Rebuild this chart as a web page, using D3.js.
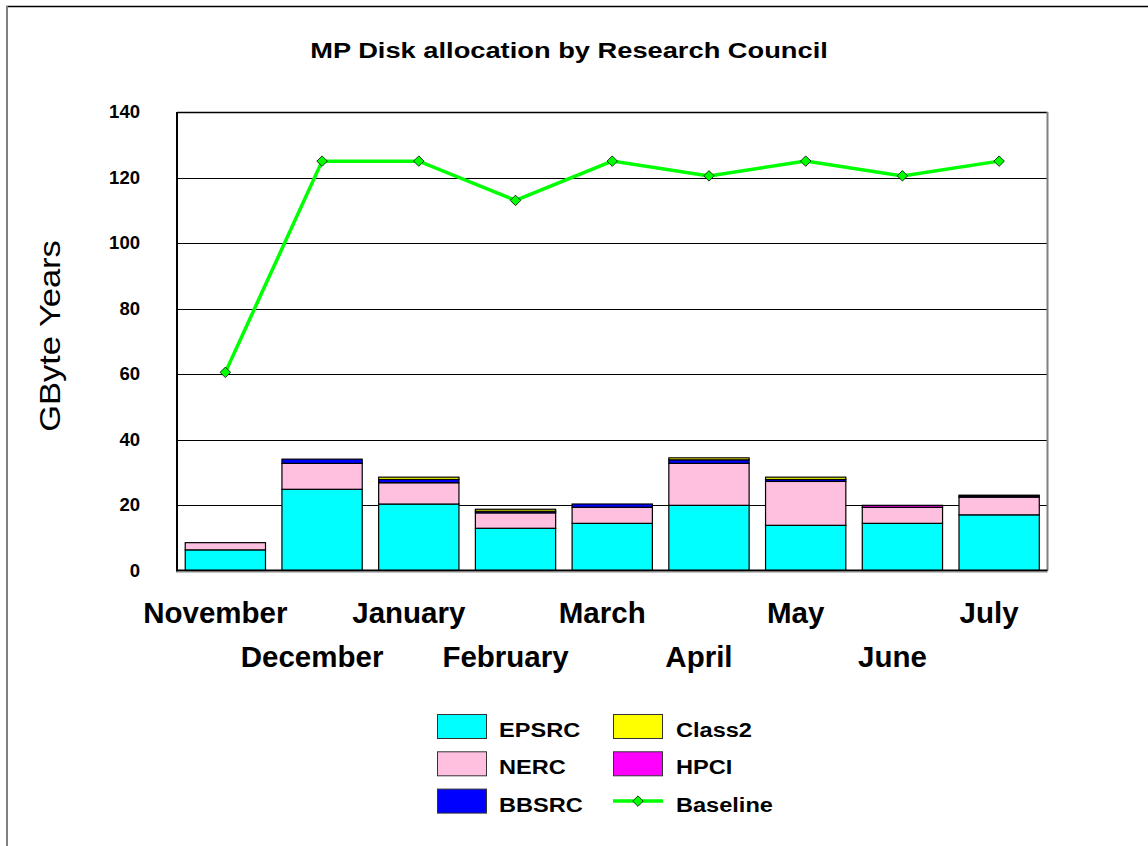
<!DOCTYPE html>
<html>
<head>
<meta charset="utf-8">
<script src="https://cdn.jsdelivr.net/npm/d3@7"></script>
<style>
  html, body { margin: 0; padding: 0; background: #fff; }
  svg { display: block; font-family: Arial, "Liberation Sans", sans-serif; }
</style>
</head>
<body>
<svg id="chart" width="1148" height="846"></svg>
<script>
const months = ["November","December","January","February","March","April","May","June","July"];
const EPSRC  = [6.3, 24.8, 20.3, 12.9, 14.4, 19.9, 13.8, 14.4, 17.0];
const NERC   = [2.2, 7.9, 6.5, 4.7, 4.9, 12.8, 13.4, 4.9, 5.4];
const BBSRC  = [0, 1.3, 1.0, 0.5, 1.0, 1.1, 0.6, 0, 0.3];
const Class2 = [0, 0, 0.7, 0.6, 0, 0.6, 0.7, 0, 0];
const HPCI   = [0, 0, 0, 0, 0, 0, 0, 0.6, 0.3];
const Baseline = [60.5, 125, 125, 113, 125, 120.5, 125, 120.5, 125];
const yTicks = [0, 20, 40, 60, 80, 100, 120, 140];

const seriesNames = ["EPSRC", "NERC", "BBSRC", "Class2", "HPCI"];
const seriesData = {EPSRC, NERC, BBSRC, Class2, HPCI};
const colors = {EPSRC:"#00ffff", NERC:"#ffc0e0", BBSRC:"#0000ff", Class2:"#ffff00", HPCI:"#ff00ff", Baseline:"#00ff00"};

const svg = d3.select("#chart");
const pL = 177, pR = 1047.5, pT = 112, pB = 570.5;

// outer frame
svg.append("line").attr("x1", 6).attr("x2", 1148).attr("y1", 6.5).attr("y2", 6.5).attr("stroke", "#000").attr("stroke-width", 1.5);
svg.append("line").attr("x1", 7).attr("x2", 7).attr("y1", 6).attr("y2", 846).attr("stroke", "#808080").attr("stroke-width", 2);

const x = d3.scaleBand().domain(months).range([pL, pR]).paddingInner(0.17).paddingOuter(0.085);
const y = d3.scaleLinear().domain([0, 140]).range([pB, pT]);

// gridlines
svg.append("g").selectAll("line").data(yTicks.filter(t => t > 0 && t < 140)).join("line")
  .attr("x1", pL).attr("x2", pR)
  .attr("y1", d => Math.round(y(d)) + 0.5).attr("y2", d => Math.round(y(d)) + 0.5)
  .attr("stroke", "#000").attr("stroke-width", 1);

// top and right frame
svg.append("line").attr("x1", pL).attr("x2", pR).attr("y1", pT + 0.5).attr("y2", pT + 0.5).attr("stroke", "#000").attr("stroke-width", 1.5);
svg.append("line").attr("x1", pR).attr("x2", pR).attr("y1", pT).attr("y2", pB).attr("stroke", "#808080").attr("stroke-width", 2);

// stacked bars
const table = months.map((m, i) => {
  const o = {month: m};
  seriesNames.forEach(s => o[s] = seriesData[s][i]);
  return o;
});
const stack = d3.stack().keys(seriesNames)(table);
const gBars = svg.append("g");
stack.forEach(layer => {
  gBars.append("g").selectAll("rect")
    .data(layer.filter(d => d[1] - d[0] > 0))
    .join("rect")
    .attr("x", d => x(d.data.month))
    .attr("width", x.bandwidth())
    .attr("y", d => y(d[1]))
    .attr("height", d => y(d[0]) - y(d[1]))
    .attr("fill", colors[layer.key])
    .attr("stroke", "#000")
    .attr("stroke-width", 1.2);
});

// axes lines
svg.append("line").attr("x1", pL).attr("x2", pL).attr("y1", pT).attr("y2", pB + 1).attr("stroke", "#000").attr("stroke-width", 2);
svg.append("line").attr("x1", pL - 1).attr("x2", pR).attr("y1", pB).attr("y2", pB).attr("stroke", "#000").attr("stroke-width", 2);
svg.append("line").attr("x1", pL - 1).attr("x2", pR).attr("y1", pB + 1.5).attr("y2", pB + 1.5).attr("stroke", "#888").attr("stroke-width", 1);

// baseline line
const cx = m => x(m) + x.bandwidth() / 2;
const line = d3.line().x((d, i) => cx(months[i])).y(d => y(d));
svg.append("path").datum(Baseline).attr("d", line).attr("fill", "none")
  .attr("stroke", colors.Baseline).attr("stroke-width", 3.5);
const diamond = d3.symbol().type(d3.symbolDiamond2).size(70);
svg.append("g").selectAll("path").data(Baseline).join("path")
  .attr("transform", (d, i) => `translate(${cx(months[i])},${y(d)})`)
  .attr("d", diamond)
  .attr("fill", colors.Baseline).attr("stroke", "#000").attr("stroke-width", 0.8);

// y tick labels
svg.append("g").selectAll("text").data(yTicks).join("text")
  .attr("transform", d => `translate(140,${y(d) + 6}) scale(1.06,1)`)
  .attr("text-anchor", "end")
  .attr("font-size", 17.5).attr("font-weight", "bold")
  .text(d => d);

// x labels (alternating rows)
svg.append("g").selectAll("text").data(months).join("text")
  .attr("x", d => cx(d) - 10)
  .attr("y", (d, i) => i % 2 === 0 ? 623 : 667)
  .attr("text-anchor", "middle")
  .attr("font-size", 29.5).attr("font-weight", "bold")
  .text(d => d);

// title
svg.append("text")
  .attr("transform", "translate(569,58) scale(1.24,1)")
  .attr("text-anchor", "middle")
  .attr("font-size", 22).attr("font-weight", "bold")
  .text("MP Disk allocation by Research Council");

// y axis title
svg.append("text")
  .attr("transform", "translate(60,336) rotate(-90) scale(1.15,1)")
  .attr("text-anchor", "middle")
  .attr("font-size", 30)
  .text("GByte Years");

// legend
const legendItems = [
  {name:"EPSRC", col:0, row:0}, {name:"NERC", col:0, row:1}, {name:"BBSRC", col:0, row:2},
  {name:"Class2", col:1, row:0}, {name:"HPCI", col:1, row:1}, {name:"Baseline", col:1, row:2}
];
const lg = svg.append("g");
legendItems.forEach(it => {
  const sx = it.col === 0 ? 437 : 613;
  const sy = 714 + it.row * 37.3;
  if (it.name === "Baseline") {
    lg.append("line").attr("x1", sx).attr("x2", sx + 50).attr("y1", sy + 12.5).attr("y2", sy + 12.5)
      .attr("stroke", colors.Baseline).attr("stroke-width", 3.5);
    lg.append("path").attr("transform", `translate(${sx + 25},${sy + 12.5})`).attr("d", diamond)
      .attr("fill", colors.Baseline).attr("stroke", "#000").attr("stroke-width", 0.8);
  } else {
    lg.append("rect").attr("x", sx + 0.5).attr("y", sy + 0.5).attr("width", 49).attr("height", 24)
      .attr("fill", colors[it.name]).attr("stroke", "#333").attr("stroke-width", 1);
  }
  lg.append("text")
    .attr("transform", `translate(${it.col === 0 ? 499 : 676},${sy + 23}) scale(1.15,1)`)
    .attr("font-size", 20.5).attr("font-weight", "bold")
    .text(it.name);
});
</script>
</body>
</html>
